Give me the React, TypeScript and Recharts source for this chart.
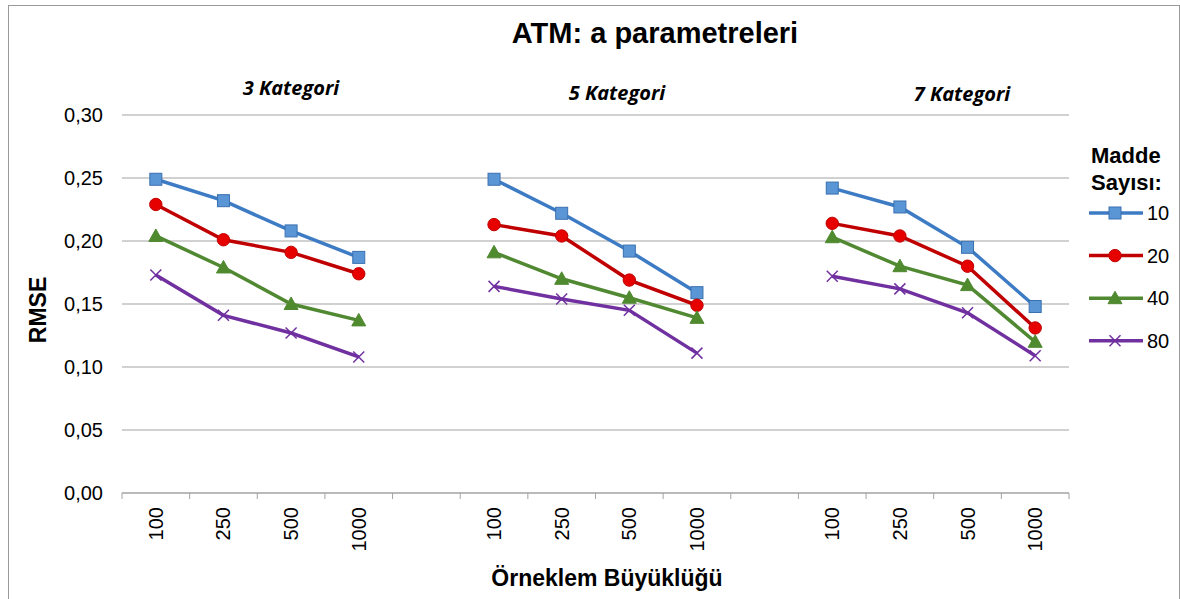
import React from "react";
import { LineChart, Line, XAxis, YAxis, CartesianGrid } from "recharts";

// sample sizes inside each category group
const sizes = ["100", "250", "500", "1000"];
const groups = ["3 Kategori", "5 Kategori", "7 Kategori"];
const yTicks = [0, 0.05, 0.1, 0.15, 0.2, 0.25, 0.3];

// RMSE values, group by group (3, 5, 7 categories)
const madde10 = [0.249, 0.232, 0.208, 0.187, 0.249, 0.222, 0.192, 0.159, 0.242, 0.227, 0.195, 0.148];
const madde20 = [0.229, 0.201, 0.191, 0.174, 0.213, 0.204, 0.169, 0.149, 0.214, 0.204, 0.18, 0.131];
const madde40 = [0.204, 0.179, 0.15, 0.137, 0.191, 0.17, 0.155, 0.139, 0.203, 0.18, 0.165, 0.12];
const madde80 = [0.173, 0.141, 0.127, 0.108, 0.164, 0.154, 0.145, 0.111, 0.172, 0.162, 0.143, 0.109];

const series = [
  { key: "m10", name: "10", values: madde10, color: "#3D7CC4", fill: "#5A96D6", shape: "square" },
  { key: "m20", name: "20", values: madde20, color: "#C00000", fill: "#E60000", shape: "circle" },
  { key: "m40", name: "40", values: madde40, color: "#508932", fill: "#4F8A2E", shape: "triangle" },
  { key: "m80", name: "80", values: madde80, color: "#7030A0", fill: "#7030A0", shape: "cross" },
];

// build rows with an empty category between groups so the lines break
const rows: any[] = [];
groups.forEach((g, gi) => {
  if (gi > 0) {
    const gap: any = { id: `gap${gi}`, label: "" };
    series.forEach((s) => (gap[s.key] = null));
    rows.push(gap);
  }
  sizes.forEach((sz, si) => {
    const r: any = { id: `g${gi}-${sz}`, label: sz };
    series.forEach((s) => (r[s.key] = s.values[gi * sizes.length + si]));
    rows.push(r);
  });
});
const labelOf: Record<string, string> = {};
rows.forEach((r) => (labelOf[r.id] = r.label));

const W = 1165;
const H = 590;
const margin = { top: 109, right: 105, left: 53, bottom: 43 };
const yAxisWidth = 60;
const bandWidth = (W - margin.left - margin.right - yAxisWidth) / rows.length;

const font = "'Liberation Sans', Arial, sans-serif";
const gridColor = "#A3A3A3";

function marker(shape: string, cx: number, cy: number, color: string, fill: string, key?: any) {
  if (shape === "square")
    return <rect key={key} x={cx - 6} y={cy - 6} width={12} height={12} fill={fill} stroke="#3A70B0" strokeWidth={1} />;
  if (shape === "circle")
    return <circle key={key} cx={cx} cy={cy} r={6.2} fill={fill} stroke={color} strokeWidth={1} />;
  if (shape === "triangle")
    return (
      <path key={key} d={`M${cx},${cy - 7} L${cx + 7},${cy + 5.5} L${cx - 7},${cy + 5.5} Z`} fill={fill} stroke={color} strokeWidth={1} />
    );
  return (
    <path key={key} d={`M${cx - 5.5},${cy - 5.5} L${cx + 5.5},${cy + 5.5} M${cx + 5.5},${cy - 5.5} L${cx - 5.5},${cy + 5.5}`} stroke={color} strokeWidth={1.5} fill="none" />
  );
}

const YTick = (props: any) => {
  const { x, y, payload } = props;
  return (
    <text x={x} y={y} dy="0.35em" textAnchor="end" fontFamily={font} fontSize={20} fill="#000">
      {Number(payload.value).toFixed(2).replace(".", ",")}
    </text>
  );
};

const XTick = (props: any) => {
  const { x, y, payload, index } = props;
  const left = x - bandWidth / 2;
  const label = labelOf[payload.value] ?? "";
  return (
    <g>
      <line x1={left} x2={left} y1={y - 14} y2={y - 8} stroke={gridColor} />
      {index === rows.length - 1 && (
        <line x1={left + bandWidth} x2={left + bandWidth} y1={y - 14} y2={y - 8} stroke={gridColor} />
      )}
      {label !== "" && (
        <g transform={`translate(${x},${y}) rotate(-90)`}>
          <text x={0} y={0} dy="0.35em" textAnchor="end" fontFamily={font} fontSize={20} fill="#000">
            {label}
          </text>
        </g>
      )}
    </g>
  );
};

export default function App() {
  const subPos = [
    { x: 282, y: 89 },
    { x: 608, y: 94 },
    { x: 953, y: 95 },
  ];
  return (
    <div
      style={{
        position: "absolute",
        left: 8,
        top: 5,
        width: 1172,
        height: 594,
        boxSizing: "border-box",
        borderLeft: "1px solid #9A9A9A",
        borderTop: "1px solid #9A9A9A",
        borderRight: "1px solid #9A9A9A",
        background: "#fff",
        overflow: "hidden",
      }}
    >
      <div style={{ position: "absolute", left: 0, top: 0 }}>
        <LineChart width={W} height={H} data={rows} margin={margin}>
          <CartesianGrid vertical={false} stroke={gridColor} />
          <XAxis
            dataKey="id"
            type="category"
            scale="band"
            interval={0}
            height={60}
            tickSize={0}
            tickMargin={14}
            axisLine={{ stroke: gridColor }}
            tick={<XTick />}
          />
          <YAxis
            type="number"
            domain={[0, 0.3]}
            ticks={yTicks}
            width={yAxisWidth}
            axisLine={false}
            tickLine={false}
            tickSize={0}
            tickMargin={19}
            tick={<YTick />}
          />
          {series.map((s) => (
            <Line
              key={s.key}
              dataKey={s.key}
              name={s.name}
              type="linear"
              stroke={s.color}
              strokeWidth={3.5}
              connectNulls={false}
              isAnimationActive={false}
              activeDot={false}
              dot={(p: any) =>
                p.cy == null || p.value == null ? (
                  <g key={`${s.key}-${p.index}`} />
                ) : (
                  marker(s.shape, p.cx, p.cy, s.color, s.fill, `${s.key}-${p.index}`)
                )
              }
            />
          ))}
        </LineChart>
      </div>
      <svg
        width={1170}
        height={590}
        style={{ position: "absolute", left: 0, top: 0, pointerEvents: "none" }}
      >
        <text x={646} y={37} textAnchor="middle" fontFamily={font} fontWeight="bold" fontSize={29}>
          ATM: a parametreleri
        </text>
        {groups.map((g, i) => (
          <text
            key={g}
            x={subPos[i].x}
            y={subPos[i].y}
            textAnchor="middle"
            fontFamily="'Open Sans', sans-serif"
            fontStyle="italic"
            fontWeight="bold"
            fontSize={20}
          >
            {g}
          </text>
        ))}
        <text
          transform="translate(37,304) rotate(-90)"
          textAnchor="middle"
          fontFamily={font}
          fontWeight="bold"
          fontSize={23}
        >
          RMSE
        </text>
        <text x={598} y={580} textAnchor="middle" fontFamily={font} fontWeight="bold" fontSize={23}>
          Örneklem Büyüklüğü
        </text>
        <text x={1082} y={157} fontFamily={font} fontWeight="bold" fontSize={22}>
          Madde
        </text>
        <text x={1082} y={184} fontFamily={font} fontWeight="bold" fontSize={22}>
          Sayısı:
        </text>
        {series.map((s, i) => {
          const cy = 207 + i * 42.6;
          return (
            <g key={s.key}>
              <line x1={1080} x2={1134} y1={cy} y2={cy} stroke={s.color} strokeWidth={3.5} />
              {marker(s.shape, 1106, cy, s.color, s.fill)}
              <text x={1138} y={cy} dy="0.35em" fontFamily={font} fontSize={20}>
                {s.name}
              </text>
            </g>
          );
        })}
      </svg>
    </div>
  );
}
